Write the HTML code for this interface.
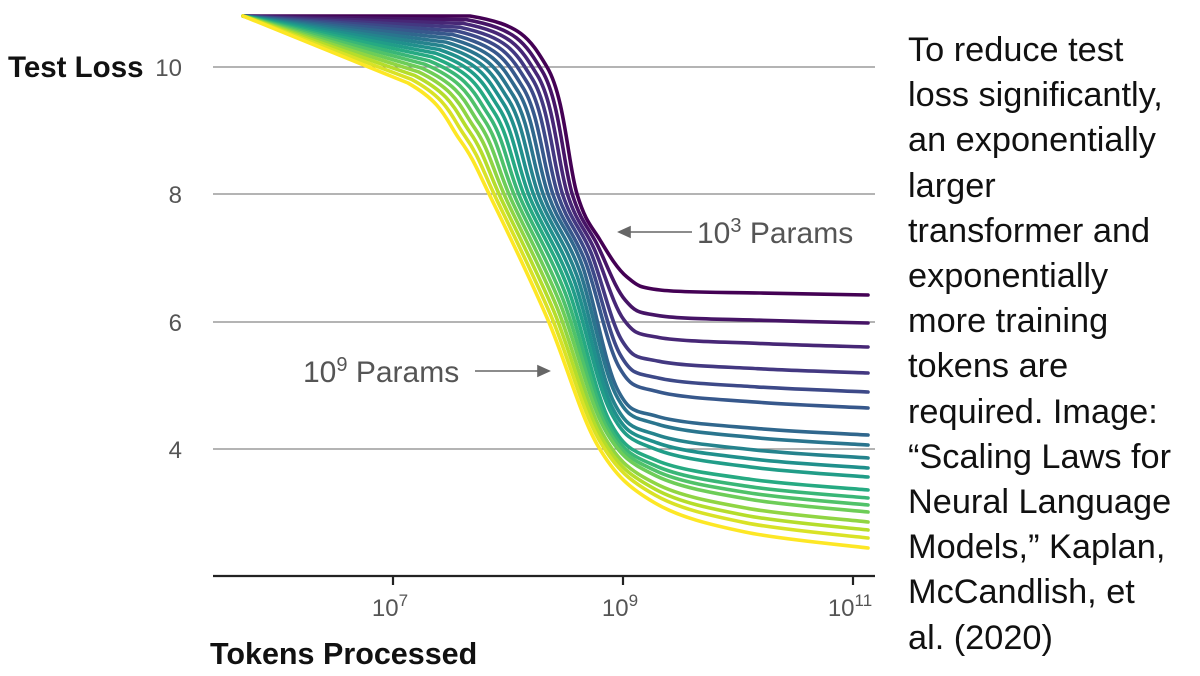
<!DOCTYPE html>
<html><head><meta charset="utf-8"><style>
html,body{margin:0;padding:0;background:#fff;}
body{width:1200px;height:676px;overflow:hidden;position:relative;font-family:"Liberation Sans",sans-serif;}
.rt{position:absolute;left:908px;top:28px;font-size:34.3px;line-height:45.2px;color:#111;white-space:pre;}
</style></head><body>
<svg id="s" width="1200" height="676" style="position:absolute;left:0;top:0">
<g stroke="#888" stroke-width="1.3">
<line x1="213" y1="67" x2="875" y2="67"/><line x1="213" y1="194" x2="875" y2="194"/>
<line x1="213" y1="322" x2="875" y2="322"/><line x1="213" y1="449" x2="875" y2="449"/>
</g>
<g id="curves" fill="none" stroke-width="3.6" stroke-linejoin="round" stroke-linecap="round"></g>
<g stroke="#222" stroke-width="2.2"><line x1="213" y1="576" x2="875" y2="576"/>
<line x1="393" y1="576" x2="393" y2="585"/><line x1="623" y1="576" x2="623" y2="585"/><line x1="853" y1="576" x2="853" y2="585"/></g>
<g font-family="Liberation Sans,sans-serif" fill="#555" font-size="24">
<text x="182" y="76" text-anchor="end">10</text><text x="182" y="203" text-anchor="end">8</text>
<text x="182" y="331" text-anchor="end">6</text><text x="182" y="458" text-anchor="end">4</text>
<text x="390" y="616" text-anchor="middle">10<tspan font-size="17" dy="-10">7</tspan></text>
<text x="620" y="616" text-anchor="middle">10<tspan font-size="17" dy="-10">9</tspan></text>
<text x="850" y="616" text-anchor="middle">10<tspan font-size="17" dy="-10">11</tspan></text>
</g>
<text x="8" y="77" font-size="29.5" font-weight="bold" fill="#111">Test Loss</text>
<text x="210" y="664" font-size="30.5" font-weight="bold" fill="#111">Tokens Processed</text>
<g fill="#555" font-size="30">
<text x="697" y="243">10<tspan font-size="20" dy="-11">3</tspan><tspan dy="11"> Params</tspan></text>
<text x="303" y="382">10<tspan font-size="20" dy="-11">9</tspan><tspan dy="11"> Params</tspan></text>
</g>
<g stroke="#666" stroke-width="1.6" fill="#666">
<line x1="692" y1="232" x2="628" y2="232"/><polygon points="619,232 630,227 630,237"/>
<line x1="475" y1="371" x2="540" y2="371"/><polygon points="549,371 538,366 538,376"/>
</g>
</svg>
<div class="rt">To reduce test
loss significantly,
an exponentially
larger
transformer and
exponentially
more training
tokens are
required. Image:
“Scaling Laws for
Neural Language
Models,” Kaplan,
McCandlish, et
al. (2020)</div>
<script>
var vir=[[68,1,84],[72,35,116],[64,67,135],[52,94,141],[41,120,142],[32,144,140],[34,167,132],[68,190,112],[121,209,81],[189,222,38],[253,231,37]];
function col(f){var p=f*(vir.length-1),i=Math.min(Math.floor(p),vir.length-2),t=p-i;var a=vir[i],b=vir[i+1];
return "rgb("+a.map(function(v,k){return Math.round(v+(b[k]-v)*t)}).join(",")+")";}
var yf=[295,323,347,373,392,408,435,445,458,468,477,490,498,505,512,522,530,538,548];
var n=yf.length,g=document.getElementById("curves"),h="";
function L(a,b,f){return a+(b-a)*f;}
for(var i=0;i<n;i++){var f=i/(n-1),y=yf[i];
var pts=[[243,16],[L(470,408,f),L(16,83,f)],[L(547,460,f),L(67,140,f)],[L(577,492,f),L(194,200,f)],
[L(600,548,f),L(240,320,f)],[L(627,598,f),y-L(18,102,f)],[L(660,655,f),y-L(5,45,f)],[L(760,745,f),y-L(2,16,f)],[868,y]];
var d="M"+pts[0][0]+","+pts[0][1];
for(var k=0;k<pts.length-1;k++){var p0=pts[Math.max(k-1,0)],p1=pts[k],p2=pts[k+1],p3=pts[Math.min(k+2,pts.length-1)];
var t=(k==0)?0:1/6;
var c1=[p1[0]+(p2[0]-p0[0])*t,p1[1]+(p2[1]-p0[1])*t],c2=[p2[0]-(p3[0]-p1[0])*t,p2[1]-(p3[1]-p1[1])*t];
d+=" C"+c1[0].toFixed(1)+","+c1[1].toFixed(1)+" "+c2[0].toFixed(1)+","+c2[1].toFixed(1)+" "+p2[0].toFixed(1)+","+p2[1].toFixed(1);}
h+='<path d="'+d+'" stroke="'+col(f)+'"/>';}
g.innerHTML=h;
</script>
</body></html>
